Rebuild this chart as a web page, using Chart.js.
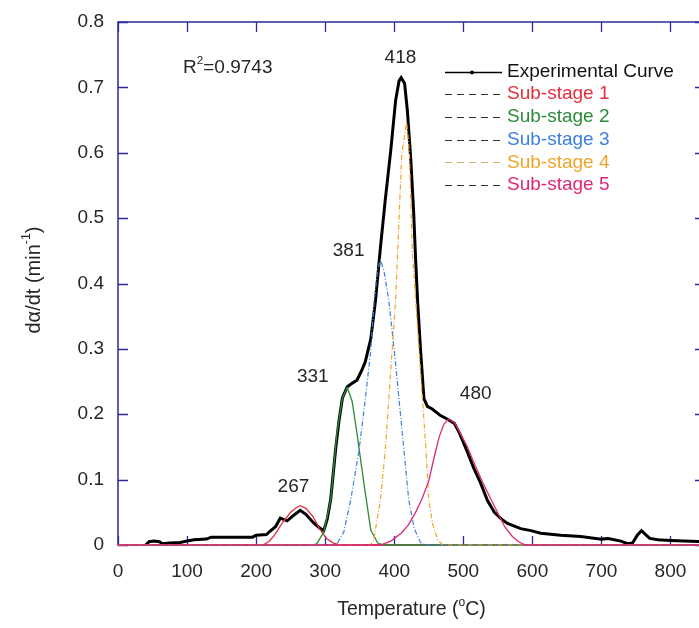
<!DOCTYPE html>
<html>
<head>
<meta charset="utf-8">
<script src="https://cdn.jsdelivr.net/npm/chart.js@4.4.1/dist/chart.umd.min.js"></script>
<style>
  html, body { margin: 0; padding: 0; background: #fff; overflow: hidden; }
  #wrap { width: 712px; height: 628px; }
</style>
</head>
<body>
<div id="wrap"><canvas id="chart" width="712" height="628"></canvas></div>
<script>
// [temperature °C, dα/dt]
const experimental = [
  [40, 0], [45, 0.005], [52, 0.006], [60, 0.005], [64, 0.002], [75, 0.003], [90, 0.004],
  [100, 0.006], [110, 0.008], [128, 0.009], [135, 0.012], [195, 0.012], [200, 0.015],
  [215, 0.016], [220, 0.021], [228, 0.028], [235, 0.041], [245, 0.037], [255, 0.046],
  [264, 0.053], [272, 0.047], [283, 0.034], [292, 0.026], [298, 0.022], [303, 0.04],
  [308, 0.07], [315, 0.145], [320, 0.19], [325, 0.225], [332, 0.242], [340, 0.248],
  [346, 0.252], [352, 0.265], [358, 0.28], [366, 0.315], [373, 0.375], [380, 0.455],
  [387, 0.528], [395, 0.604], [402, 0.68], [407, 0.71], [410, 0.715], [415, 0.706],
  [419, 0.665], [424, 0.589], [428, 0.512], [431, 0.436], [434, 0.37], [438, 0.3],
  [443, 0.224], [448, 0.212], [455, 0.208], [467, 0.198], [478, 0.192], [487, 0.186],
  [495, 0.17], [506, 0.142], [515, 0.118], [525, 0.095], [535, 0.068], [545, 0.05],
  [555, 0.04], [564, 0.033], [583, 0.025], [598, 0.022], [612, 0.018], [641, 0.015],
  [670, 0.013], [700, 0.009], [710, 0.01], [728, 0.006], [738, 0.002], [745, 0.003],
  [752, 0.015], [758, 0.022], [764, 0.016], [770, 0.01], [782, 0.008], [800, 0.007], [850, 0.005],
];
const subStage1 = [
  [0, 0], [210, 0], [218, 0.005], [225, 0.013], [232, 0.024], [238, 0.034], [250, 0.05],
  [258, 0.057], [264, 0.06], [272, 0.056], [282, 0.044], [293, 0.023], [302, 0.01],
  [312, 0.003], [322, 0], [850, 0],
];
const subStage2 = [
  [0, 0], [282, 0], [288, 0.002], [298, 0.02], [308, 0.069], [317, 0.171], [325, 0.225],
  [332, 0.241], [339, 0.22], [346, 0.171], [356, 0.095], [366, 0.023], [376, 0.003], [385, 0], [850, 0],
];
const subStage3 = [
  [0, 0], [312, 0], [317, 0.002], [327, 0.02], [337, 0.069], [349, 0.145], [358, 0.222],
  [366, 0.298], [371, 0.375], [376, 0.42], [380, 0.436], [385, 0.42], [392, 0.375],
  [400, 0.298], [407, 0.222], [414, 0.145], [421, 0.069], [429, 0.025], [438, 0.004], [446, 0], [850, 0],
];
const subStage4 = [
  [0, 0], [365, 0], [370, 0.006], [380, 0.069], [387, 0.145], [392, 0.222], [397, 0.298],
  [402, 0.375], [405, 0.45], [411, 0.6], [418, 0.647], [422, 0.6], [426, 0.45], [431, 0.375],
  [436, 0.298], [441, 0.222], [446, 0.145], [450, 0.069], [456, 0.03], [463, 0.008], [470, 0], [850, 0],
];
const subStage5 = [
  [0, 0], [380, 0], [395, 0.006], [410, 0.018], [420, 0.03], [430, 0.048], [440, 0.07],
  [450, 0.098], [458, 0.135], [465, 0.165], [472, 0.185], [479, 0.193], [488, 0.186],
  [497, 0.168], [506, 0.15], [517, 0.122], [528, 0.096], [540, 0.07], [550, 0.049],
  [560, 0.028], [571, 0.013], [580, 0.005], [590, 0], [850, 0],
];

const xTicks = [0, 100, 200, 300, 400, 500, 600, 700, 800];
const yTicks = [0, 0.1, 0.2, 0.3, 0.4, 0.5, 0.6, 0.7, 0.8];
const seriesNames = ["Experimental Curve", "Sub-stage 1", "Sub-stage 2", "Sub-stage 3", "Sub-stage 4", "Sub-stage 5"];
// peak temperatures written above each peak, anchored in data units
const peakNotes = [
  { text: "418", x: 409, y: 0.746 },
  { text: "381", x: 334, y: 0.45 },
  { text: "331", x: 282, y: 0.257 },
  { text: "480", x: 518, y: 0.232 },
  { text: "267", x: 254, y: 0.089 },
];
const fitR2 = "0.9743";

const FONT = "'Liberation Sans', Arial, sans-serif";
const TEXT = "#262626";
const AXIS = "#2a2a9c";
const colors = ["#000000", "#e2303e", "#2e8b3a", "#3d7fe0", "#f2a42a", "#de2877"];
const legendDash = ["#333", "#333", "#333", "#333", "#d6b070", "#333"];

const pts = (list) => list.map(([x, y]) => ({ x, y }));

// draws text pieces, some as superscript, starting at x (or centred)
function richText(ctx, parts, x, y, size, align) {
  const widths = parts.map((p) => {
    ctx.font = `${p.sup ? size * 0.62 : size}px ${FONT}`;
    return ctx.measureText(p.t).width;
  });
  const total = widths.reduce((a, b) => a + b, 0);
  let cx = align === "center" ? x - total / 2 : x;
  ctx.textAlign = "left";
  ctx.textBaseline = "middle";
  parts.forEach((p, i) => {
    ctx.font = `${p.sup ? size * 0.62 : size}px ${FONT}`;
    ctx.fillText(p.t, cx, p.sup ? y - size * 0.38 : y);
    cx += widths[i];
  });
}

const framePlugin = {
  id: "frame",
  beforeDatasetsDraw(chart) {
    const { ctx, chartArea: a, scales } = chart;
    ctx.save();
    ctx.strokeStyle = AXIS;
    ctx.lineWidth = 1.5;
    ctx.strokeRect(a.left, a.top, a.right - a.left, a.bottom - a.top);
    ctx.lineWidth = 1.3;
    ctx.beginPath();
    xTicks.forEach((v) => {
      const px = Math.round(scales.x.getPixelForValue(v)) + 0.5;
      ctx.moveTo(px, a.bottom); ctx.lineTo(px, a.bottom - 9);
      ctx.moveTo(px, a.top); ctx.lineTo(px, a.top + 10);
    });
    yTicks.forEach((v) => {
      const py = Math.round(scales.y.getPixelForValue(v)) + 0.5;
      ctx.moveTo(a.left, py); ctx.lineTo(a.left + 10, py);
      ctx.moveTo(a.right, py); ctx.lineTo(a.right - 10, py);
    });
    ctx.stroke();
    ctx.restore();
  },
  afterDraw(chart) {
    const { ctx, chartArea: a, scales } = chart;
    ctx.save();
    ctx.fillStyle = TEXT;
    ctx.font = `19px ${FONT}`;
    ctx.textBaseline = "middle";

    ctx.textAlign = "right";
    yTicks.forEach((v) => {
      ctx.fillText(v === 0 ? "0" : v.toFixed(1), a.left - 14, scales.y.getPixelForValue(v));
    });
    ctx.textAlign = "center";
    xTicks.forEach((v) => {
      ctx.fillText(String(v), scales.x.getPixelForValue(v), a.bottom + 27);
    });

    peakNotes.forEach((n) => {
      ctx.fillText(n.text, scales.x.getPixelForValue(n.x), scales.y.getPixelForValue(n.y));
    });

    richText(ctx, [{ t: "R" }, { t: "2", sup: true }, { t: "=" + fitR2 }], 183, 68, 19, "left");
    richText(ctx, [{ t: "Temperature (" }, { t: "o", sup: true }, { t: "C)" }],
      (a.left + a.right) / 2, 610, 19.5, "center");

    ctx.save();
    ctx.translate(34, 280);
    ctx.rotate(-Math.PI / 2);
    richText(ctx, [{ t: "dα/dt (min" }, { t: "-1", sup: true }, { t: ")" }], 0, 0, 20, "center");
    ctx.restore();

    // legend
    const lx = 445, tx = 507, ly = 71.5, gap = 22.7;
    seriesNames.forEach((name, i) => {
      const y = Math.round(ly + i * gap) + 0.5;
      ctx.beginPath();
      if (i === 0) {
        ctx.setLineDash([]);
        ctx.strokeStyle = "#000";
        ctx.lineWidth = 1.5;
        ctx.moveTo(lx, y); ctx.lineTo(lx + 57, y);
        ctx.stroke();
        ctx.beginPath();
        ctx.fillStyle = "#000";
        ctx.arc(lx + 27, y, 2, 0, Math.PI * 2);
        ctx.fill();
      } else {
        ctx.setLineDash([7, 5]);
        ctx.strokeStyle = legendDash[i];
        ctx.lineWidth = 1.2;
        ctx.moveTo(lx, y); ctx.lineTo(lx + 57, y);
        ctx.stroke();
      }
      ctx.setLineDash([]);
      ctx.fillStyle = i === 0 ? "#111" : colors[i];
      ctx.font = `19px ${FONT}`;
      ctx.textAlign = "left";
      ctx.fillText(name, tx, ly + i * gap);
    });
    ctx.restore();
  },
};

const lineSet = (i, data, width, dash, order) => ({
  label: seriesNames[i],
  data: pts(data),
  borderColor: colors[i],
  borderWidth: width,
  borderDash: dash,
  pointRadius: 0,
  tension: 0,
  fill: false,
  clip: false,
  order,
});

new Chart(document.getElementById("chart"), {
  type: "line",
  data: {
    datasets: [
      lineSet(0, experimental, 3, [], 10),
      lineSet(1, subStage1, 1.3, [], 5),
      lineSet(2, subStage2, 1.3, [], 4),
      lineSet(3, subStage3, 1.2, [5, 2, 1, 2], 3),
      lineSet(4, subStage4, 1.2, [5, 2, 1, 2], 2),
      lineSet(5, subStage5, 1.3, [], 1),
    ],
  },
  options: {
    responsive: false,
    animation: false,
    parsing: true,
    layout: { padding: { top: 22, right: 7, left: 0, bottom: 0 } },
    plugins: { legend: { display: false }, tooltip: { enabled: false } },
    scales: {
      x: {
        type: "linear",
        min: 0,
        max: 850,
        grid: { display: false },
        border: { display: false },
        ticks: { display: false },
        afterBuildTicks: (s) => { s.ticks = xTicks.map((v) => ({ value: v })); },
        afterFit: (s) => { s.height = 83; },
      },
      y: {
        type: "linear",
        min: 0,
        max: 0.8,
        grid: { display: false },
        border: { display: false },
        ticks: { display: false },
        afterBuildTicks: (s) => { s.ticks = yTicks.map((v) => ({ value: v })); },
        afterFit: (s) => { s.width = 118; },
      },
    },
  },
  plugins: [framePlugin],
});
</script>
</body>
</html>
